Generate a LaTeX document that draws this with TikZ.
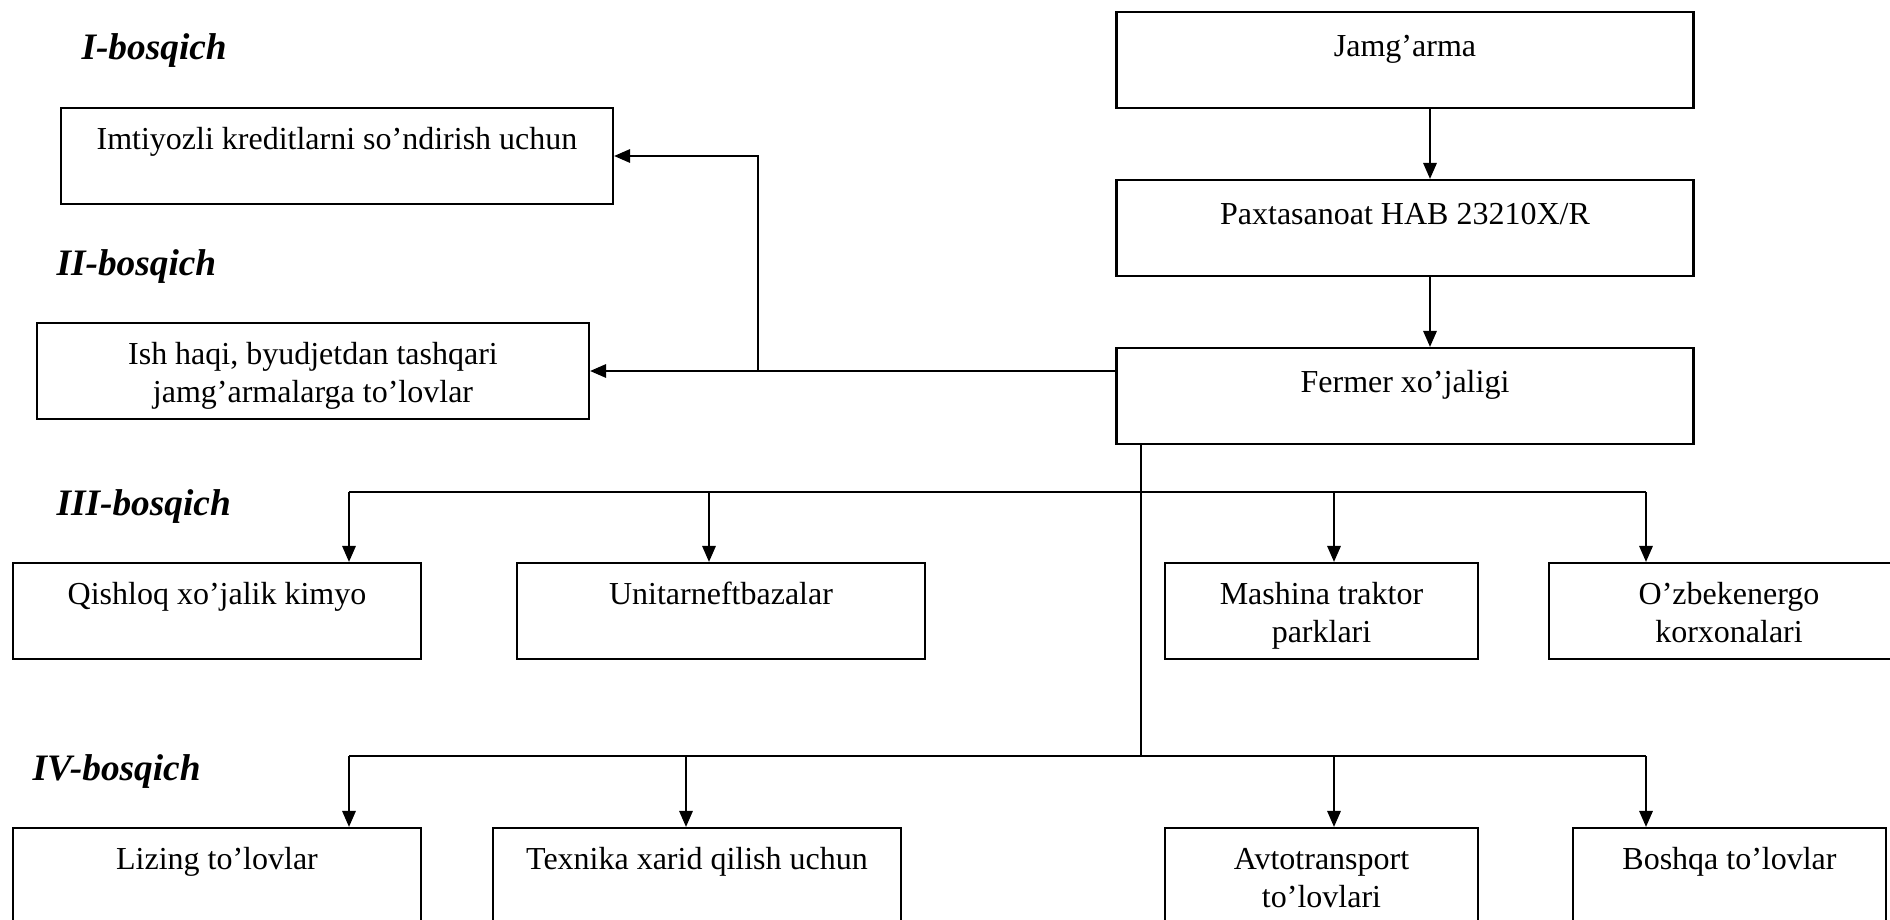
\documentclass[tikz,border=0pt]{standalone}
\usepackage{fontspec}
\setmainfont{Liberation Serif}
\usepackage{tikz}
\usetikzlibrary{positioning,arrows.meta}

\tikzset{
  blok/.style={draw, thick, rectangle, align=flush center, inner sep=0pt,
    text height=15.4pt, text depth=20.6pt,
    font=\fontsize{12}{14.25}\selectfont},
  yuqori/.style={blok, text width=216.4pt, text height=16.8pt, text depth=19.2pt},
  bosqich/.style={anchor=base west, inner sep=0pt,
    font=\fontsize{14}{16}\selectfont\bfseries\itshape},
  >={Triangle[length=6pt, width=5pt]}
}

\begin{document}
\begin{tikzpicture}[x=0.375pt, y=-0.375pt]
  \useasboundingbox (0, 0) rectangle (1890, 920);

  % bosqichlar
  \node[bosqich] (bosq1) at (81, 60) {I-bosqich};
  \node[bosqich] (bosq2) at (56, 275) {II-bosqich};
  \node[bosqich] (bosq3) at (56, 515) {III-bosqich};
  \node[bosqich] (bosq4) at (32, 780) {IV-bosqich};

  % yuqori qism
  \node[yuqori] (jamgarma) at (1405, 60){
    Jamg’arma
  };

  \node[yuqori] (paxta) at (1405, 228){
    Paxtasanoat HAB 23210X/R
  };

  \node[yuqori] (fermer) at (1405, 396){
    Fermer xo’jaligi
  };

  \node[blok, text width=207pt] (imtiyoz) at (337, 156){
    Imtiyozli kreditlarni so’ndirish uchun
  };

  \node[blok, text width=207pt] (ishhaqi) at (313, 371){
    Ish haqi, byudjetdan tashqari\\jamg’armalarga to’lovlar
  };

  % III-bosqich
  \node[blok, text width=153pt] (qishloq) at (217, 611){
    Qishloq xo’jalik kimyo
  };

  \node[blok, text width=153pt] (unitar) at (721, 611){
    Unitarneftbazalar
  };

  \node[blok, text width=117.4pt] (mashina) at (1321.5, 611){
    Mashina traktor\\parklari
  };

  \node[blok, text width=135pt] (ozbek) at (1729, 611){
    O’zbekenergo\\korxonalari
  };

  % IV-bosqich
  \node[blok, text width=153pt] (lizing) at (217, 876){
    Lizing to’lovlar
  };

  \node[blok, text width=153pt] (texnika) at (697, 876){
    Texnika xarid qilish uchun
  };

  \node[blok, text width=117.4pt] (avto) at (1321.5, 876){
    Avtotransport\\to’lovlari
  };

  \node[blok, text width=117.4pt] (boshqa) at (1729.5, 876){
    Boshqa to’lovlar
  };

  \coordinate (oq) at (1430, 0);
  \coordinate (tugun) at (758, 371);
  \coordinate (ayri) at (1141, 756);

  \draw[thick, ->] (jamgarma.south -| oq) -- (paxta.north -| oq);
  \draw[thick, ->] (paxta.south -| oq) -- (fermer.north -| oq);

  \draw[thick, ->] (ishhaqi.east -| fermer.west) -- (ishhaqi.east);
  \draw[thick, ->] (tugun) |- (imtiyoz.east);

  \draw[thick] (ayri |- fermer.south) -- (ayri);

  \foreach \n/\x in {qishloq/349, unitar/709, mashina/1334, ozbek/1646}{
    \coordinate (\n-in) at (\x, 492);
    \draw[thick, ->] (\n-in) -- (\n-in |- \n.north);
  }
  \draw[thick] (qishloq-in) -- (ozbek-in);

  \foreach \n/\x in {lizing/349, texnika/686, avto/1334, boshqa/1646}{
    \coordinate (\n-in) at (\x, 756);
    \draw[thick, ->] (\n-in) -- (\n-in |- \n.north);
  }
  \draw[thick] (lizing-in) -- (boshqa-in);
\end{tikzpicture}
\end{document}
